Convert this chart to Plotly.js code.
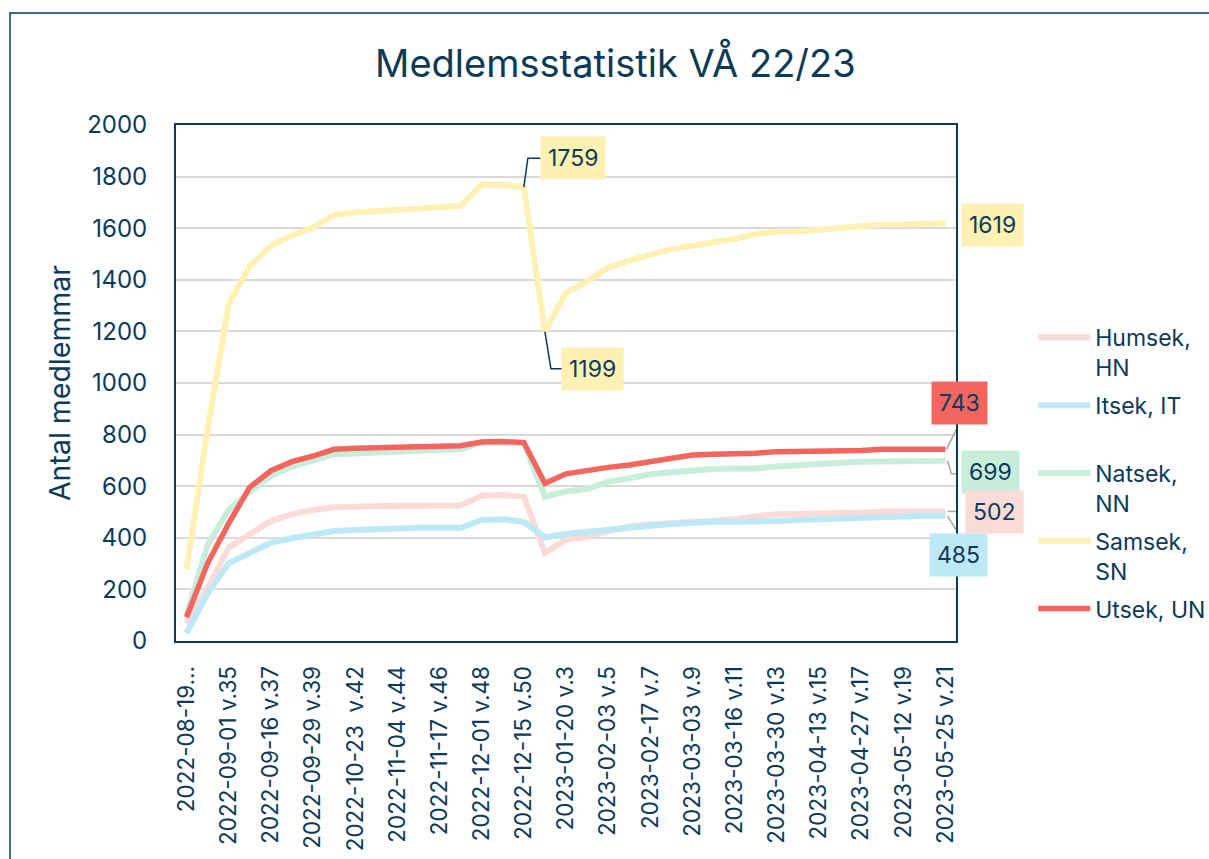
<!DOCTYPE html>
<html>
<head>
<meta charset="utf-8">
<script src="https://cdn.plot.ly/plotly-3.0.1.min.js"></script>
<style>
  html, body { margin: 0; padding: 0; background: #ffffff; }
  #chart { width: 1209px; height: 859px; }
</style>
</head>
<body>
<div id="chart"></div>
<script>
// ---------- data ----------
const categories = [
  '2022-08-19 v.33','2022-08-26 v.34','2022-09-01 v.35','2022-09-08 v.36','2022-09-16 v.37',
  '2022-09-22 v.38','2022-09-29 v.39','2022-10-06 v.40','2022-10-23 v.42','2022-10-28 v.43',
  '2022-11-04 v.44','2022-11-10 v.45','2022-11-17 v.46','2022-11-24 v.47','2022-12-01 v.48',
  '2022-12-08 v.49','2022-12-15 v.50','2023-01-13 v.2','2023-01-20 v.3','2023-01-27 v.4',
  '2023-02-03 v.5','2023-02-10 v.6','2023-02-17 v.7','2023-02-24 v.8','2023-03-03 v.9',
  '2023-03-10 v.10','2023-03-16 v.11','2023-03-23 v.12','2023-03-30 v.13','2023-04-06 v.14',
  '2023-04-13 v.15','2023-04-20 v.16','2023-04-27 v.17','2023-05-05 v.18','2023-05-12 v.19',
  '2023-05-19 v.20','2023-05-25 v.21'
];
const tickLabels = [
  '2022-08-19...','2022-09-01 v.35','2022-09-16 v.37','2022-09-29 v.39','2022-10-23  v.42',
  '2022-11-04 v.44','2022-11-17 v.46','2022-12-01 v.48','2022-12-15 v.50','2023-01-20 v.3',
  '2023-02-03 v.5','2023-02-17 v.7','2023-03-03 v.9','2023-03-16 v.11','2023-03-30 v.13',
  '2023-04-13 v.15','2023-04-27 v.17','2023-05-12 v.19','2023-05-25 v.21'
];
const seriesNames = ['Humsek, HN','Itsek, IT','Natsek, NN','Samsek, SN','Utsek, UN'];
const humsek = [68,205,362,411,465,492,508,518,521,523,524,524,524,525,563,566,559,342,392,
  404,426,443,452,459,462,466,472,484,491,492,493,495,498,502,502,502,502];
const itsek  = [30,185,301,340,381,398,411,426,430,434,439,439,439,439,469,472,462,402,415,
  424,434,440,447,453,459,462,462,462,465,469,472,475,481,484,485,485,485];
const natsek = [100,372,508,578,640,676,699,724,727,731,736,740,744,744,770,770,768,559,580,
  589,617,631,646,654,663,667,669,669,676,682,689,691,695,697,699,699,699];
const samsek = [278,820,1305,1452,1532,1572,1603,1651,1661,1665,1672,1677,1681,1687,1769,1767,1759,1199,1350,
  1393,1448,1474,1494,1519,1532,1543,1558,1577,1587,1587,1594,1597,1603,1614,1614,1616,1619];
const utsek  = [92,301,456,596,660,695,717,743,747,749,756,756,756,757,771,773,769,611,648,
  663,673,682,695,704,721,724,725,728,734,735,735,735,738,743,743,743,743];

// ---------- styling ----------
const NAVY = '#0d3a58';
const FONT = 'Inter, "Open Sans", sans-serif';
const colors = ['#fadbd8','#bde9f7','#c8eedb','#fff0b3','#f2665f'];
const legendText = ['Humsek,<br>HN','Itsek, IT<br> ','Natsek,<br>NN','Samsek,<br>SN','Utsek, UN'];
const seriesData = [humsek, itsek, natsek, samsek, utsek];

const traces = seriesData.map((vals, i) => ({
  type: 'scatter', mode: 'lines', x: categories, y: vals,
  name: legendText[i], legendgroup: 'g' + i,
  line: { color: colors[i], width: i === 4 ? 5.5 : 6, shape: 'linear' },
  hoverinfo: 'skip'
}));

const last = categories.length - 1;
const dropIdx = 16;
// label definitions: series index, point index, pixel offset of box, leader path (pixels), leader colour
const labels = [
  { s: 3, p: dropIdx,     dx: 49, dy: 29,  path: 'M0,0 L4,29 L17,29',   lc: NAVY },
  { s: 3, p: dropIdx + 1, dx: 48, dy: -37, path: 'M0,0 L6,-37 L19,-37', lc: NAVY },
  { s: 3, p: last,        dx: 47, dy: -2,  path: null, lc: null },
  { s: 4, p: last,        dx: 14, dy: 46,  path: 'M1,0 L12,22',          lc: '#a6a6a6' },
  { s: 2, p: last,        dx: 45, dy: -11, path: 'M2,0 L6,-13 L15,-13',  lc: '#a6a6a6' },
  { s: 0, p: last,        dx: 49, dy: -1,  path: 'M2,0 L20,0',           lc: '#a6a6a6' },
  { s: 1, p: last,        dx: 13, dy: -39, path: 'M2,0 L12,-16',         lc: '#a6a6a6' }
];

const annotations = labels.map(l => ({
  xref: 'x', yref: 'y', x: categories[l.p], y: seriesData[l.s][l.p],
  text: String(seriesData[l.s][l.p]), showarrow: false,
  xshift: l.dx, yshift: l.dy,
  bgcolor: colors[l.s], borderpad: 7,
  font: { family: FONT, size: 23, color: NAVY }
}));

const shapes = [
  // outer chart frame
  { type: 'rect', xref: 'paper', yref: 'paper', x0: -0.2128, x1: 1.6, y0: -0.8, y1: 1.217,
    line: { color: NAVY, width: 1.5 }, fillcolor: 'rgba(0,0,0,0)', layer: 'below' }
];
labels.forEach(l => {
  if (!l.path) return;
  shapes.push({
    type: 'path', xref: 'x', yref: 'y', xsizemode: 'pixel', ysizemode: 'pixel',
    xanchor: categories[l.p], yanchor: seriesData[l.s][l.p],
    path: l.path, line: { color: l.lc, width: 1.5 }, layer: 'above'
  });
});

const tickVals = categories.filter((c, i) => i % 2 === 0);

const layout = {
  width: 1209, height: 859,
  margin: { l: 176, r: 253, t: 125, b: 218, pad: 0, autoexpand: false },
  paper_bgcolor: '#ffffff', plot_bgcolor: '#ffffff',
  font: { family: FONT, color: NAVY },
  title: {
    text: 'Medlemsstatistik VÅ 22/23',
    font: { family: FONT, size: 38, color: NAVY },
    x: 0.509, xref: 'container', xanchor: 'center',
    y: 0.926, yref: 'container', yanchor: 'middle'
  },
  xaxis: {
    type: 'category', tickmode: 'array', tickvals: tickVals, ticktext: tickLabels,
    range: [-0.5, categories.length - 0.5], autorange: false,
    tickangle: -90, tickfont: { family: FONT, size: 22.5, color: NAVY },
    showgrid: false, zeroline: false, ticks: '', ticklabelstandoff: 14,
    showline: true, linecolor: NAVY, linewidth: 2, mirror: true,
    automargin: false, fixedrange: true
  },
  yaxis: {
    range: [0, 2000], autorange: false, dtick: 200, tick0: 0,
    tickfont: { family: FONT, size: 24, color: NAVY },
    showgrid: true, gridcolor: '#d9d9d9', gridwidth: 2, zeroline: false,
    ticks: '', ticklabelstandoff: 22,
    showline: true, linecolor: NAVY, linewidth: 2, mirror: true,
    title: { text: 'Antal medlemmar', font: { family: FONT, size: 28.5, color: NAVY }, standoff: 8 },
    automargin: false, fixedrange: true
  },
  showlegend: true,
  legend: {
    x: 1.099, xanchor: 'left', y: 0.63, yanchor: 'top',
    font: { family: FONT, size: 23, color: NAVY },
    traceorder: 'grouped', tracegroupgap: 5, valign: 'top',
    itemwidth: 52, bgcolor: 'rgba(0,0,0,0)'
  },
  annotations: annotations,
  shapes: shapes
};

Plotly.newPlot('chart', traces, layout, { displayModeBar: false, staticPlot: true });
</script>
</body>
</html>
